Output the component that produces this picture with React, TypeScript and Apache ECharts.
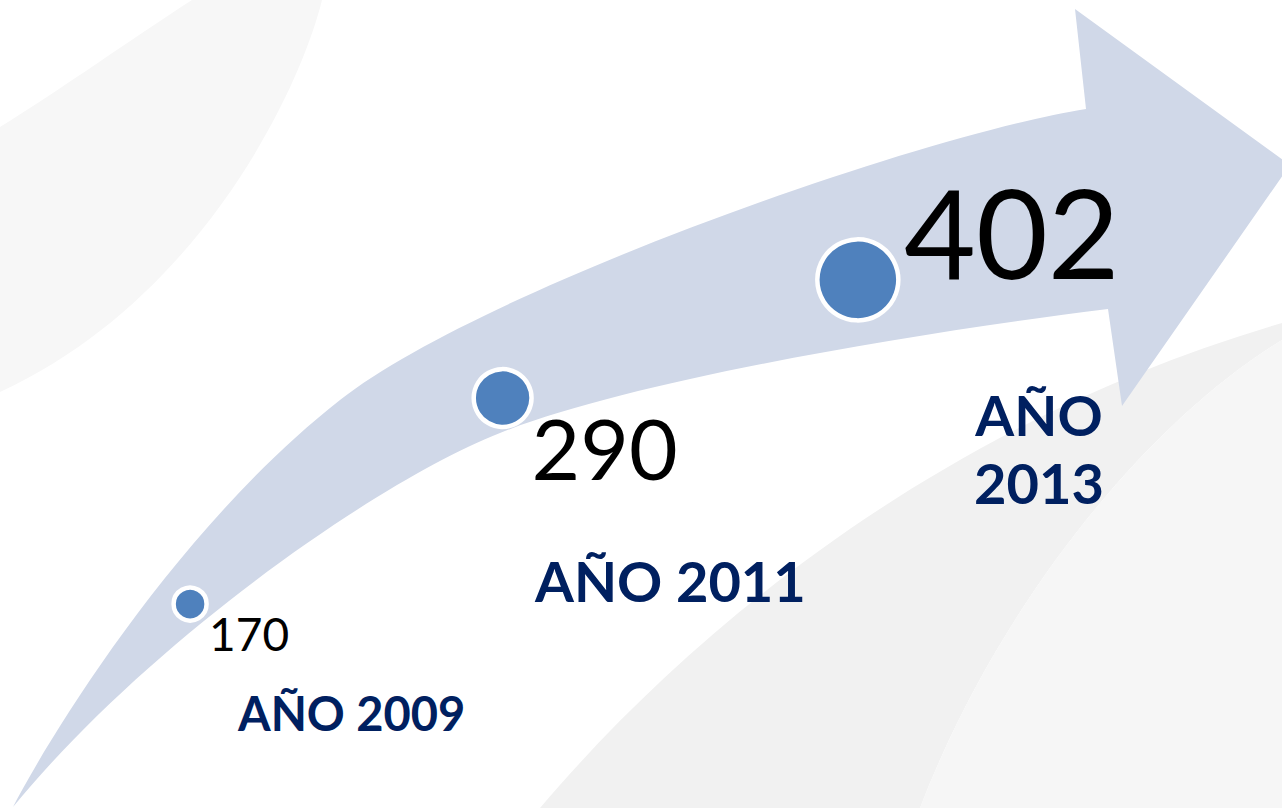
import React, { useEffect, useRef } from "react";
import * as echarts from "echarts";

// ---- data ----
const years = [2009, 2011, 2013];
const values = [170, 290, 402];
const seriesName = "Total";
const yearPrefix = "AÑO";

// ---- layout (not data) ----
const valueLabelOffsets = [
  [59, 29],
  [102, 49],
  [154, -49],
];
const valueLabelSizes = [46, 84, 124];
const yearLabelLayout = [
  { x: 238, y: 713, size: 47, align: "left", wrap: false },
  { x: 535, y: 580, size: 56, align: "left", wrap: false },
  { x: 1039, y: 448, size: 56, align: "center", wrap: true },
];

const ARROW_PATH =
  "M13 807 C45 745 172 532 340 400 C480 290 920 135 1086 109 L1075 9 L1290 165 L1122 406 L1108 309 C908 334 630 381 500 433 C380 480 150 640 13 807 Z";
const BG_LEFT_PATH =
  "M192 0 L322 0 C300 90 200 300 0 392 L0 127 C60 90 130 40 192 0 Z";
const BG_BAND_PATH =
  "M540 808 C700 620 950 420 1282 323 L1282 340 C1150 420 1000 600 920 808 Z";
const BG_RIGHT_PATH = "M920 808 C1000 600 1150 420 1282 340 L1282 808 Z";

let registered = false;
function registerShapes() {
  if (registered) return;
  registered = true;
  echarts.graphic.registerShape("upArrow", echarts.graphic.extendPath(ARROW_PATH, {}) as any);
  echarts.graphic.registerShape("bgLeft", echarts.graphic.extendPath(BG_LEFT_PATH, {}) as any);
  echarts.graphic.registerShape("bgBand", echarts.graphic.extendPath(BG_BAND_PATH, {}) as any);
  echarts.graphic.registerShape("bgRight", echarts.graphic.extendPath(BG_RIGHT_PATH, {}) as any);
}

const symbolSizeOf = (v: number) => 0.207 * v - 2.2;

export default function App() {
  const ref = useRef<HTMLDivElement>(null);

  useEffect(() => {
    if (!ref.current) return;
    registerShapes();
    const chart = echarts.init(ref.current, undefined, { renderer: "svg" });

    const data = values.map((v, i) => ({
      value: [0, years[i], v],
      label: {
        fontSize: valueLabelSizes[i],
        offset: valueLabelOffsets[i],
      },
    }));

    const yearTexts = years.map((y, i) => {
      const l = yearLabelLayout[i];
      return {
        type: "text",
        z: 10,
        silent: true,
        style: {
          text: l.wrap ? `${yearPrefix}\n${y}` : `${yearPrefix} ${y}`,
          x: l.x,
          y: l.y,
          fill: "#002060",
          fontFamily: "Lato",
          fontWeight: "bold",
          fontSize: l.size,
          lineHeight: 68,
          align: l.align,
          textAlign: l.align,
          verticalAlign: "middle",
          textVerticalAlign: "middle",
        },
      };
    });

    const option: any = {
      animation: false,
      backgroundColor: "#ffffff",
      polar: { center: [1129, 1688], radius: [0, 2868] },
      angleAxis: {
        type: "value",
        min: 2000,
        max: 2048,
        startAngle: 198.4,
        clockwise: true,
        show: false,
        axisLine: { show: false },
        axisTick: { show: false },
        axisLabel: { show: false },
        splitLine: { show: false },
      },
      radiusAxis: {
        type: "category",
        data: [seriesName],
        show: false,
        axisLine: { show: false },
        axisTick: { show: false },
        axisLabel: { show: false },
        splitLine: { show: false },
      },
      graphic: {
        elements: [
          { type: "bgLeft", z: 0, silent: true, style: { fill: "#f7f7f7" } },
          { type: "bgBand", z: 0, silent: true, style: { fill: "#f1f1f1" } },
          { type: "bgRight", z: 0, silent: true, style: { fill: "#f6f6f6" } },
          { type: "upArrow", z: 1, silent: true, style: { fill: "#D0D8E8" } },
          ...yearTexts,
        ],
      },
      series: [
        {
          type: "scatter",
          name: seriesName,
          coordinateSystem: "polar",
          polarIndex: 0,
          z: 5,
          clip: false,
          symbol: "circle",
          symbolSize: (val: number[]) => symbolSizeOf(val[2]),
          itemStyle: {
            color: "#4F81BD",
            borderColor: "#FFFFFF",
            borderWidth: 4.5,
            opacity: 1,
          },
          label: {
            show: true,
            position: "inside",
            color: "#000000",
            fontFamily: "Lato",
            fontWeight: "normal",
            formatter: (p: any) => String(p.value[2]),
          },
          emphasis: { disabled: true },
          data,
        },
      ],
    };

    chart.setOption(option);
    return () => chart.dispose();
  }, []);

  return (
    <div
      ref={ref}
      style={{ position: "absolute", left: 0, top: 0, width: 1282, height: 808 }}
    />
  );
}
